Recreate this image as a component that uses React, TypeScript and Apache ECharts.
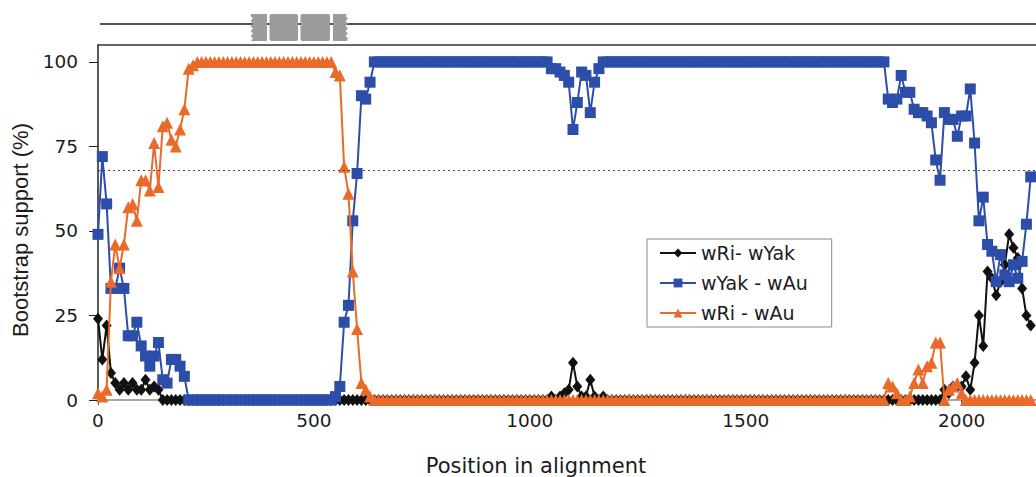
import React, { useEffect, useRef } from "react";
import * as echarts from "echarts";

// Window start positions (bp) along the alignment
const POSITIONS = [
  0, 10, 20, 30, 40, 50, 60, 70, 80, 90,
  100, 110, 120, 130, 140, 150, 160, 170, 180, 190,
  200, 210, 220, 230, 240, 250, 260, 270, 280, 290,
  300, 310, 320, 330, 340, 350, 360, 370, 380, 390,
  400, 410, 420, 430, 440, 450, 460, 470, 480, 490,
  500, 510, 520, 530, 540, 550, 560, 570, 580, 590,
  600, 610, 620, 630, 640, 650, 660, 670, 680, 690,
  700, 710, 720, 730, 740, 750, 760, 770, 780, 790,
  800, 810, 820, 830, 840, 850, 860, 870, 880, 890,
  900, 910, 920, 930, 940, 950, 960, 970, 980, 990,
  1000, 1010, 1020, 1030, 1040, 1050, 1060, 1070, 1080, 1090,
  1100, 1110, 1120, 1130, 1140, 1150, 1160, 1170, 1180, 1190,
  1200, 1210, 1220, 1230, 1240, 1250, 1260, 1270, 1280, 1290,
  1300, 1310, 1320, 1330, 1340, 1350, 1360, 1370, 1380, 1390,
  1400, 1410, 1420, 1430, 1440, 1450, 1460, 1470, 1480, 1490,
  1500, 1510, 1520, 1530, 1540, 1550, 1560, 1570, 1580, 1590,
  1600, 1610, 1620, 1630, 1640, 1650, 1660, 1670, 1680, 1690,
  1700, 1710, 1720, 1730, 1740, 1750, 1760, 1770, 1780, 1790,
  1800, 1810, 1820, 1830, 1840, 1850, 1860, 1870, 1880, 1890,
  1900, 1910, 1920, 1930, 1940, 1950, 1960, 1970, 1980, 1990,
  2000, 2010, 2020, 2030, 2040, 2050, 2060, 2070, 2080, 2090,
  2100, 2110, 2120, 2130, 2140, 2150, 2160,
];

// wRi- wYak bootstrap support (%)
const W_RI_W_YAK = [
  24, 12, 22, 8, 5, 3, 5, 3, 5, 3,
  3, 6, 3, 4, 3, 0, 0, 0, 0, 0,
  0, 0, 0, 0, 0, 0, 0, 0, 0, 0,
  0, 0, 0, 0, 0, 0, 0, 0, 0, 0,
  0, 0, 0, 0, 0, 0, 0, 0, 0, 0,
  0, 0, 0, 0, 0, 0, 0, 0, 0, 0,
  0, 0, 0, 0, 0, 0, 0, 0, 0, 0,
  0, 0, 0, 0, 0, 0, 0, 0, 0, 0,
  0, 0, 0, 0, 0, 0, 0, 0, 0, 0,
  0, 0, 0, 0, 0, 0, 0, 0, 0, 0,
  0, 0, 0, 0, 0, 1, 0, 1, 2, 3,
  11, 4, 1, 1, 6, 1, 0, 1, 0, 0,
  0, 0, 0, 0, 0, 0, 0, 0, 0, 0,
  0, 0, 0, 0, 0, 0, 0, 0, 0, 0,
  0, 0, 0, 0, 0, 0, 0, 0, 0, 0,
  0, 0, 0, 0, 0, 0, 0, 0, 0, 0,
  0, 0, 0, 0, 0, 0, 0, 0, 0, 0,
  0, 0, 0, 0, 0, 0, 0, 0, 0, 0,
  0, 0, 0, 0, 0, 0, 0, 0, 0, 0,
  0, 0, 0, 0, 0, 0, 3, 2, 4, 4,
  4, 7, 3, 11, 25, 16, 38, 36, 31, 35,
  40, 49, 45, 42, 33, 25, 22,
];

// wYak - wAu bootstrap support (%)
const W_YAK_W_AU = [
  49, 72, 58, 33, 33, 39, 33, 19, 19, 23,
  16, 13, 10, 13, 17, 6, 5, 12, 12, 10,
  7, 0, 0, 0, 0, 0, 0, 0, 0, 0,
  0, 0, 0, 0, 0, 0, 0, 0, 0, 0,
  0, 0, 0, 0, 0, 0, 0, 0, 0, 0,
  0, 0, 0, 0, 0, 1, 4, 23, 28, 53,
  67, 90, 89, 94, 100, 100, 100, 100, 100, 100,
  100, 100, 100, 100, 100, 100, 100, 100, 100, 100,
  100, 100, 100, 100, 100, 100, 100, 100, 100, 100,
  100, 100, 100, 100, 100, 100, 100, 100, 100, 100,
  100, 100, 100, 100, 100, 98, 98, 97, 96, 94,
  80, 88, 97, 96, 85, 94, 98, 100, 100, 100,
  100, 100, 100, 100, 100, 100, 100, 100, 100, 100,
  100, 100, 100, 100, 100, 100, 100, 100, 100, 100,
  100, 100, 100, 100, 100, 100, 100, 100, 100, 100,
  100, 100, 100, 100, 100, 100, 100, 100, 100, 100,
  100, 100, 100, 100, 100, 100, 100, 100, 100, 100,
  100, 100, 100, 100, 100, 100, 100, 100, 100, 100,
  100, 100, 100, 89, 88, 89, 96, 91, 91, 86,
  85, 85, 84, 82, 71, 65, 85, 83, 83, 78,
  84, 84, 92, 76, 53, 60, 46, 44, 35, 43,
  37, 35, 40, 36, 41, 52, 66,
];

// wRi - wAu bootstrap support (%)
const W_RI_W_AU = [
  2, 1, 3, 35, 46, 39, 46, 57, 58, 53,
  65, 65, 62, 76, 63, 81, 82, 77, 75, 80,
  86, 98, 99, 100, 100, 100, 100, 100, 100, 100,
  100, 100, 100, 100, 100, 100, 100, 100, 100, 100,
  100, 100, 100, 100, 100, 100, 100, 100, 100, 100,
  100, 100, 100, 100, 100, 97, 96, 69, 61, 38,
  21, 5, 3, 1, 0, 0, 0, 0, 0, 0,
  0, 0, 0, 0, 0, 0, 0, 0, 0, 0,
  0, 0, 0, 0, 0, 0, 0, 0, 0, 0,
  0, 0, 0, 0, 0, 0, 0, 0, 0, 0,
  0, 0, 0, 0, 0, 0, 0, 0, 0, 0,
  0, 0, 0, 0, 0, 0, 0, 0, 0, 0,
  0, 0, 0, 0, 0, 0, 0, 0, 0, 0,
  0, 0, 0, 0, 0, 0, 0, 0, 0, 0,
  0, 0, 0, 0, 0, 0, 0, 0, 0, 0,
  0, 0, 0, 0, 0, 0, 0, 0, 0, 0,
  0, 0, 0, 0, 0, 0, 0, 0, 0, 0,
  0, 0, 0, 0, 0, 0, 0, 0, 0, 0,
  0, 0, 0, 5, 4, 2, 0, 0, 1, 5,
  9, 5, 10, 11, 17, 17, 0, 3, 4, 5,
  2, 0, 0, 0, 0, 0, 0, 0, 0, 0,
  0, 0, 0, 0, 0, 0, 0,
];

const SERIES_NAMES = ["wRi- wYak", "wYak - wAu", "wRi - wAu"];
const X_TICKS = [0, 500, 1000, 1500, 2000];
const Y_TICKS = [0, 25, 50, 75, 100];
const THRESHOLD = 68;

const FONT = "'DejaVu Sans', 'Liberation Sans', Arial, sans-serif";
const TEXT_COLOR = "#1c1c1c";

function toPairs(ys: number[]) {
  return POSITIONS.map((x, i) => [x, ys[i]]);
}

export default function App() {
  const ref = useRef<HTMLDivElement>(null);

  useEffect(() => {
    if (!ref.current) return;
    const chart = echarts.init(ref.current, null, { renderer: "svg" });

    const gray = "#9c9c9c";
    const option: any = {
      animation: false,
      backgroundColor: "#ffffff",
      grid: {
        left: 98,
        top: 45,
        width: 950,
        height: 355,
        containLabel: false,
        outerBoundsMode: "none",
      },
      legend: {
        data: SERIES_NAMES,
        orient: "vertical",
        left: 647,
        top: 239,
        padding: [4, 24, 4, 12],
        itemGap: 10,
        itemWidth: 36,
        itemHeight: 11,
        backgroundColor: "#ffffff",
        borderColor: "#8a8a8a",
        borderWidth: 1,
        textStyle: { fontFamily: FONT, fontSize: 19, color: TEXT_COLOR, lineHeight: 20 },
      },
      xAxis: [
        {
          type: "value",
          min: 0,
          max: 2200,
          position: "bottom",
          axisLine: { show: true, lineStyle: { color: "#8a8a8a", width: 1.5 } },
          axisTick: { show: true, length: 5, customValues: X_TICKS, lineStyle: { color: "#555" } },
          axisLabel: {
            customValues: X_TICKS,
            formatter: (v: number) => String(v),
            margin: 11,
            fontFamily: FONT,
            fontSize: 18.5,
            color: TEXT_COLOR,
          },
          splitLine: { show: false },
          name: "Position in alignment",
          nameLocation: "middle",
          nameGap: 55,
          nameTextStyle: {
            fontFamily: FONT,
            fontSize: 21,
            color: TEXT_COLOR,
            padding: [0, 74, 0, 0],
          },
        },
        {
          type: "value",
          min: 0,
          max: 2200,
          position: "top",
          axisLine: { show: true, lineStyle: { color: "#333", width: 1.5 } },
          axisTick: { show: false },
          axisLabel: { show: false },
          splitLine: { show: false },
        },
      ],
      yAxis: {
        type: "value",
        min: 0,
        max: 105,
        interval: 25,
        axisLine: { show: true, lineStyle: { color: "#222", width: 1.5 } },
        axisTick: { show: true, length: 9, customValues: Y_TICKS, lineStyle: { color: "#222" } },
        axisLabel: {
          customValues: Y_TICKS,
          formatter: (v: number) => String(v),
          margin: 20,
          fontFamily: FONT,
          fontSize: 18.5,
          color: TEXT_COLOR,
        },
        splitLine: { show: false },
        name: "Bootstrap support (%)",
        nameLocation: "middle",
        nameGap: 65,
        nameTextStyle: {
          fontFamily: "'Liberation Sans', Arial, sans-serif",
          fontSize: 22,
          color: TEXT_COLOR,
          padding: [0, 15, 0, 0],
        },
      },
      series: [
        {
          name: SERIES_NAMES[0],
          type: "line",
          data: toPairs(W_RI_W_YAK),
          symbol: "diamond",
          symbolSize: [10, 12],
          showAllSymbol: true,
          clip: false,
          color: "#111111",
          lineStyle: { width: 2, color: "#111111" },
          itemStyle: { color: "#111111" },
          z: 2,
        },
        {
          name: SERIES_NAMES[1],
          type: "line",
          data: toPairs(W_YAK_W_AU),
          symbol: "rect",
          symbolSize: 11,
          showAllSymbol: true,
          clip: false,
          color: "#2d4ea8",
          lineStyle: { width: 2, color: "#2d4ea8" },
          itemStyle: { color: "#2d4ea8" },
          z: 3,
          markLine: {
            silent: true,
            symbol: "none",
            label: { show: false },
            lineStyle: { type: [2, 3], color: "#444", width: 1.2 },
            data: [{ yAxis: THRESHOLD }],
          },
        },
        {
          name: SERIES_NAMES[2],
          type: "line",
          data: toPairs(W_RI_W_AU),
          symbol: "triangle",
          symbolSize: 12,
          showAllSymbol: true,
          clip: false,
          color: "#ea6a2a",
          lineStyle: { width: 2, color: "#ea6a2a" },
          itemStyle: { color: "#ea6a2a" },
          z: 4,
        },
      ],
      graphic: [
        {
          type: "line",
          silent: true,
          shape: { x1: 100, y1: 24, x2: 1036, y2: 24 },
          style: { stroke: "#1a1a1a", lineWidth: 1.5 },
        },
        {
          type: "polygon",
          silent: true,
          shape: {
            points: [
              [267, 14], [267, 41], [251, 41], [253, 38.5], [250.5, 36], [253, 33.5],
              [250.5, 31], [253, 28.5], [250.5, 26], [253, 23.5], [250.5, 21],
              [253, 18.5], [250.5, 16], [251, 14],
            ],
          },
          style: { fill: gray },
        },
        {
          type: "rect",
          silent: true,
          shape: { x: 269.5, y: 14, width: 28.5, height: 27, r: 2 },
          style: { fill: gray },
        },
        {
          type: "rect",
          silent: true,
          shape: { x: 300.5, y: 14, width: 29.5, height: 27, r: 2 },
          style: { fill: gray },
        },
        {
          type: "polygon",
          silent: true,
          shape: {
            points: [
              [333, 14], [347, 14], [345.5, 16], [348, 18.5], [345.5, 21], [348, 23.5],
              [345.5, 26], [348, 28.5], [345.5, 31], [348, 33.5], [345.5, 36],
              [348, 38.5], [347, 41], [333, 41],
            ],
          },
          style: { fill: gray },
        },
      ],
    };

    chart.setOption(option);
    return () => {
      chart.dispose();
    };
  }, []);

  return (
    <div
      ref={ref}
      style={{ position: "fixed", left: 0, top: 0, width: 1036, height: 477, background: "#fff" }}
    />
  );
}
